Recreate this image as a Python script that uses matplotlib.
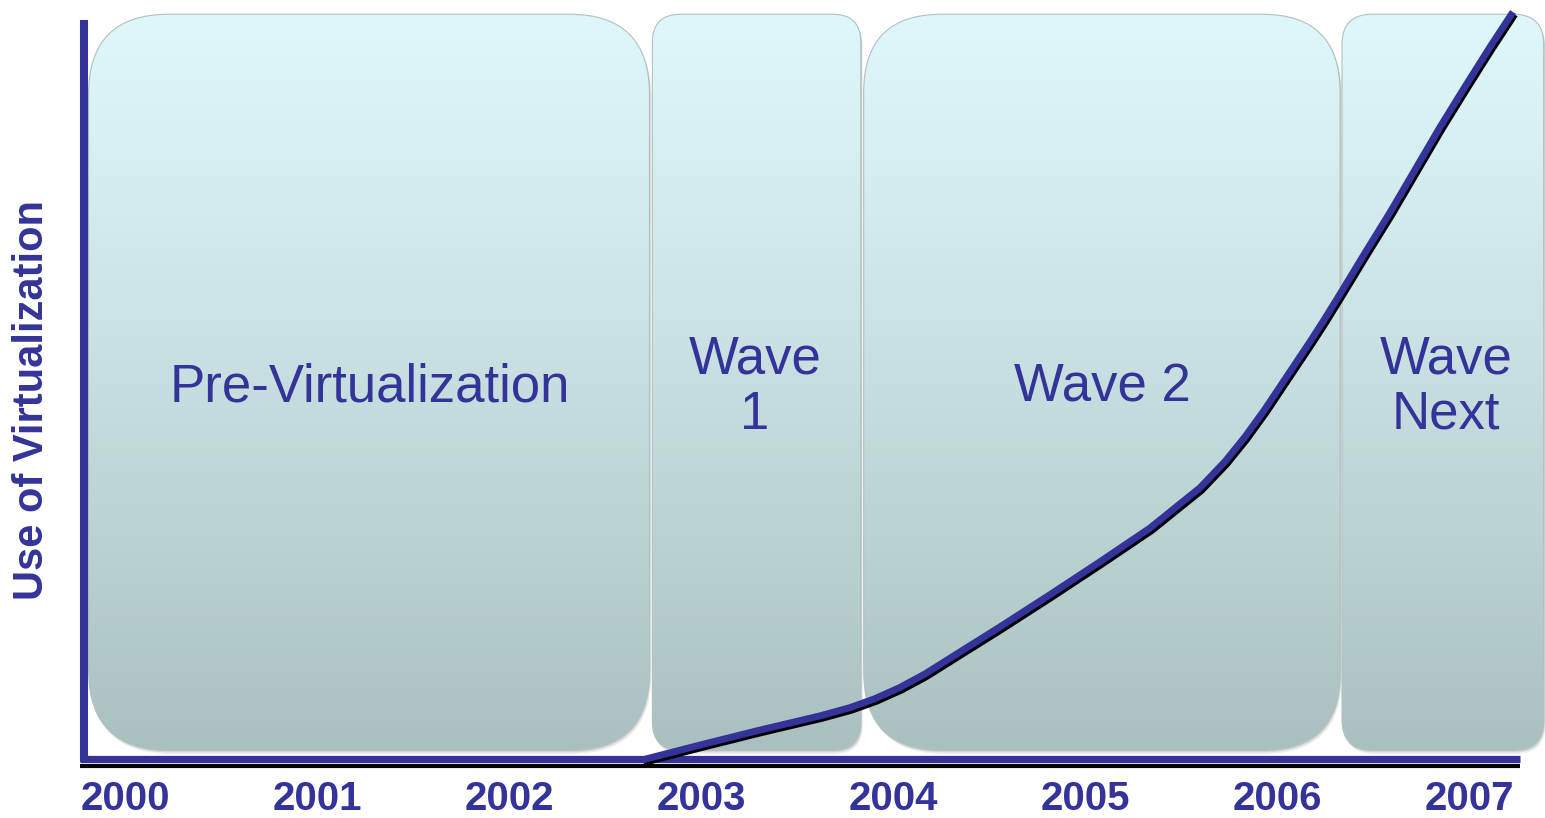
import numpy as np
import matplotlib
matplotlib.use("Agg")
import matplotlib.pyplot as plt
from matplotlib.patches import FancyBboxPatch
import matplotlib.patheffects as pe

plt.rcParams['font.family'] = ['Liberation Sans', 'DejaVu Sans']

# data
years = [2000, 2001, 2002, 2003, 2004, 2005, 2006, 2007]
era_names = ['Pre-Virtualization', 'Wave\n1', 'Wave 2', 'Wave\nNext']
era_start = [1999.81, 2002.745, 2003.845, 2006.335]
era_end = [2002.73, 2003.83, 2006.325, 2007.385]
curve_x = [2002.691, 2002.993, 2003.305, 2003.618, 2003.774, 2003.904, 2004.034,
           2004.164, 2004.294, 2004.555, 2004.815, 2005.075, 2005.335, 2005.596,
           2005.726, 2005.830, 2005.934, 2006.064, 2006.168, 2006.236, 2006.325,
           2006.455, 2006.585, 2006.715, 2006.845, 2006.975, 2007.105, 2007.225]
curve_y = [0.0, 2.0, 4.0, 5.9, 7.0, 8.2, 9.7, 11.5, 13.6, 17.8, 22.1, 26.5, 31.0,
           36.4, 39.9, 43.2, 46.9, 51.9, 55.9, 58.6, 62.3, 67.8, 73.2, 78.9, 84.6,
           90.0, 95.3, 100.0]

navy = '#333399'
px_x = 192.1   # pixels per year
px_y = 7.48    # pixels per unit of use
ex0 = 1999.349

fig = plt.figure(figsize=(15.45, 8.18), dpi=100)
ax = fig.add_axes([0, 0, 1, 1])
ax.axis('off')

radii = [80, 28, 78, 30]
box_bottom, box_top = 1.34, 99.7
grad = np.linspace(0, 1, 256).reshape(-1, 1)
grad = grad ** 1.15
top_c = np.array([0xDE, 0xF7, 0xFA]) / 255
bot_c = np.array([0xAA, 0xC0, 0xC0]) / 255
img = top_c * (1 - grad[..., None]) + bot_c * grad[..., None]
img = img[::-1]  # origin lower

for x0, x1, r in zip(era_start, era_end, radii):
    style = f"round,pad=0,rounding_size={r / px_x}"
    for k, a in [(4, 0.12), (2.5, 0.18), (1.2, 0.25)]:
        shadow = FancyBboxPatch((x0 + k * 0.5 / px_x, box_bottom - k / px_y), x1 - x0,
                                box_top - box_bottom, boxstyle=style,
                                mutation_aspect=px_x / px_y,
                                facecolor='#6f7c7c', edgecolor='none', alpha=a, zorder=1)
        ax.add_patch(shadow)
    box = FancyBboxPatch((x0, box_bottom), x1 - x0, box_top - box_bottom,
                         boxstyle=style, mutation_aspect=px_x / px_y,
                         facecolor='none', edgecolor='#b3c0c0', lw=0.8, zorder=3)
    ax.add_patch(box)
    im = ax.imshow(img, extent=(x0, x1, box_bottom, box_top), aspect='auto',
                   origin='lower', zorder=2, interpolation='bilinear')
    im.set_clip_path(box)

# era labels
label_pos = [(370, 387), (755, 387), (1102, 387), (1446, 387)]
for name, (lx, ly) in zip(era_names, label_pos):
    ax.text(ex0 + lx / px_x, (760 - ly) / px_y, name, ha='center', va='center',
            fontsize=38, color=navy, linespacing=1.15, zorder=5)

# axes lines
ax.plot([ex0 + 80 / px_x, ex0 + 1520 / px_x], [-5.5 / px_y, -5.5 / px_y],
        color='black', lw=3, solid_capstyle='butt', zorder=6)
ax.plot([ex0 + 80 / px_x, ex0 + 1520 / px_x], [1.5 / px_y, 1.5 / px_y],
        color=navy, lw=5.2, solid_capstyle='butt', zorder=7)
ax.plot([ex0 + 84 / px_x, ex0 + 84 / px_x], [(760 - 20) / px_y, -2 / px_y],
        color=navy, lw=5.8, solid_capstyle='butt', zorder=7)

# curve
ax.plot(curve_x, curve_y, color=navy, lw=5.0, solid_capstyle='butt',
        solid_joinstyle='round', zorder=8,
        path_effects=[pe.SimpleLineShadow(offset=(1.2, -1.8), shadow_color='black', alpha=1.0),
                      pe.Normal()])

# year labels
for yr in years:
    ax.text(yr, (760 - 799) / px_y, str(yr), ha='center', va='center',
            fontsize=29, fontweight='bold', color=navy)

ax.text(ex0 + 32 / px_x, (760 - 400) / px_y, 'Use of Virtualization', rotation=90,
        ha='center', va='center', fontsize=30, fontweight='bold', color=navy)

ax.set_xlim(ex0, ex0 + 1545 / px_x)
ax.set_ylim(-(818 - 760) / px_y, 760 / px_y)

fig.savefig('out.png', dpi=100)
